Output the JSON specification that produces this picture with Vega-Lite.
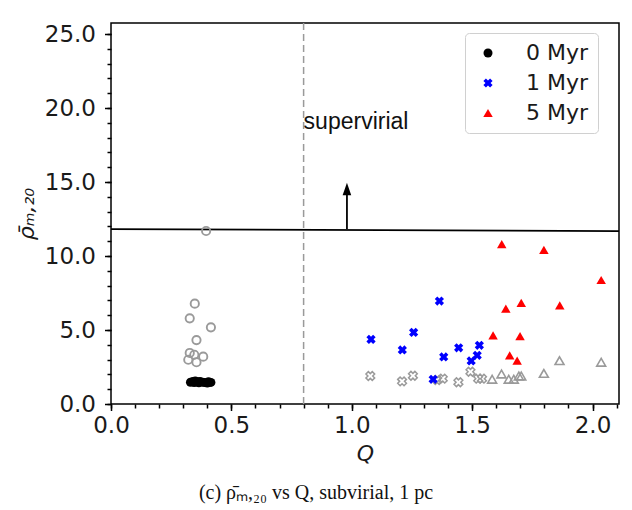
{
  "$schema": "https://vega.github.io/schema/vega-lite/v6.json",
  "autosize": "none",
  "width": 508,
  "height": 381,
  "padding": {"left": 111, "top": 23, "right": 13, "bottom": 106},
  "background": "white",
  "title": {
    "text": "(c) ρ̄ₘ,₂₀ vs Q, subvirial, 1 pc",
    "orient": "bottom",
    "anchor": "middle",
    "dx": -49,
    "offset": 18,
    "font": "Liberation Serif",
    "fontSize": 20,
    "fontWeight": "normal",
    "color": "#111111"
  },
  "resolve": {"axis": {"x": "independent", "y": "independent"}},
  "datasets": {
    "main": [
      {"Q": 0.33, "rho": 1.47, "series": "0 Myr"},
      {"Q": 0.34, "rho": 1.52, "series": "0 Myr"},
      {"Q": 0.345, "rho": 1.45, "series": "0 Myr"},
      {"Q": 0.35, "rho": 1.55, "series": "0 Myr"},
      {"Q": 0.355, "rho": 1.48, "series": "0 Myr"},
      {"Q": 0.36, "rho": 1.5, "series": "0 Myr"},
      {"Q": 0.365, "rho": 1.43, "series": "0 Myr"},
      {"Q": 0.37, "rho": 1.52, "series": "0 Myr"},
      {"Q": 0.38, "rho": 1.47, "series": "0 Myr"},
      {"Q": 0.39, "rho": 1.45, "series": "0 Myr"},
      {"Q": 0.4, "rho": 1.42, "series": "0 Myr"},
      {"Q": 0.405, "rho": 1.5, "series": "0 Myr"},
      {"Q": 0.415, "rho": 1.46, "series": "0 Myr"},
      {"Q": 1.364, "rho": 6.96, "series": "1 Myr"},
      {"Q": 1.08, "rho": 4.37, "series": "1 Myr"},
      {"Q": 1.257, "rho": 4.84, "series": "1 Myr"},
      {"Q": 1.21, "rho": 3.65, "series": "1 Myr"},
      {"Q": 1.382, "rho": 3.18, "series": "1 Myr"},
      {"Q": 1.444, "rho": 3.8, "series": "1 Myr"},
      {"Q": 1.53, "rho": 3.97, "series": "1 Myr"},
      {"Q": 1.521, "rho": 3.29, "series": "1 Myr"},
      {"Q": 1.496, "rho": 2.91, "series": "1 Myr"},
      {"Q": 1.338, "rho": 1.67, "series": "1 Myr"},
      {"Q": 1.623, "rho": 10.81, "series": "5 Myr"},
      {"Q": 1.798, "rho": 10.41, "series": "5 Myr"},
      {"Q": 2.036, "rho": 8.38, "series": "5 Myr"},
      {"Q": 1.704, "rho": 6.84, "series": "5 Myr"},
      {"Q": 1.64, "rho": 6.44, "series": "5 Myr"},
      {"Q": 1.864, "rho": 6.67, "series": "5 Myr"},
      {"Q": 1.587, "rho": 4.64, "series": "5 Myr"},
      {"Q": 1.699, "rho": 4.59, "series": "5 Myr"},
      {"Q": 1.656, "rho": 3.29, "series": "5 Myr"},
      {"Q": 1.687, "rho": 2.93, "series": "5 Myr"}
    ],
    "grayc": [
      {"Q": 0.395, "rho": 11.69},
      {"Q": 0.348, "rho": 6.78},
      {"Q": 0.327, "rho": 5.79},
      {"Q": 0.415, "rho": 5.18},
      {"Q": 0.355, "rho": 4.32},
      {"Q": 0.327, "rho": 3.45},
      {"Q": 0.346, "rho": 3.33},
      {"Q": 0.383, "rho": 3.2},
      {"Q": 0.321, "rho": 2.99},
      {"Q": 0.355, "rho": 2.82}
    ],
    "grayx": [
      {"Q": 1.077, "rho": 1.89},
      {"Q": 1.209, "rho": 1.53},
      {"Q": 1.254, "rho": 1.91},
      {"Q": 1.355, "rho": 1.62},
      {"Q": 1.378, "rho": 1.71},
      {"Q": 1.443, "rho": 1.47},
      {"Q": 1.493, "rho": 2.18},
      {"Q": 1.525, "rho": 1.71},
      {"Q": 1.541, "rho": 1.71}
    ],
    "grayt": [
      {"Q": 1.583, "rho": 1.67},
      {"Q": 1.622, "rho": 2.03},
      {"Q": 1.652, "rho": 1.67},
      {"Q": 1.673, "rho": 1.67},
      {"Q": 1.694, "rho": 1.89},
      {"Q": 1.704, "rho": 1.89},
      {"Q": 1.798, "rho": 2.07},
      {"Q": 1.863, "rho": 2.93},
      {"Q": 2.036, "rho": 2.82}
    ]
  },
  "layer": [
    {
      "data": {"values": [{"Q": 0.8}]},
      "mark": {"type": "rule", "color": "#9a9a9a", "strokeWidth": 1.5, "strokeDash": [7, 4]},
      "encoding": {
        "x": {"field": "Q", "type": "quantitative", "axis": null}
      }
    },
    {
      "data": {"values": [{"Q": 0, "rho": 11.82, "Q2": 2.11, "rho2": 11.69}]},
      "mark": {"type": "rule", "color": "black", "strokeWidth": 1.8},
      "encoding": {
        "x": {"field": "Q", "type": "quantitative", "axis": null},
        "y": {"field": "rho", "type": "quantitative", "axis": null},
        "x2": {"field": "Q2"},
        "y2": {"field": "rho2"}
      }
    },
    {
      "data": {"values": [{"Q": 0.98, "rho": 11.82, "rho2": 14.3}]},
      "mark": {"type": "rule", "color": "black", "strokeWidth": 1.8},
      "encoding": {
        "x": {"field": "Q", "type": "quantitative", "axis": null},
        "y": {"field": "rho", "type": "quantitative", "axis": null},
        "y2": {"field": "rho2"}
      }
    },
    {
      "data": {"values": [{"Q": 0.98, "rho": 14.53}]},
      "mark": {"type": "point", "shape": "M0,-1L-0.7,1L0.7,1Z", "filled": true, "color": "black", "opacity": 1, "size": 151},
      "encoding": {
        "x": {"field": "Q", "type": "quantitative", "axis": null},
        "y": {"field": "rho", "type": "quantitative", "axis": null}
      }
    },
    {
      "data": {"values": [{"Q": 0.8, "rho": 18.6, "label": "supervirial"}]},
      "mark": {"type": "text", "font": "Liberation Sans", "fontSize": 23, "align": "left", "baseline": "alphabetic", "color": "#111111", "dx": 0},
      "encoding": {
        "x": {"field": "Q", "type": "quantitative", "axis": null},
        "y": {"field": "rho", "type": "quantitative", "axis": null},
        "text": {"field": "label"}
      }
    },
    {
      "data": {"name": "grayc"},
      "mark": {"type": "point", "shape": "circle", "filled": false, "stroke": "#9a9a9a", "strokeWidth": 1.9, "opacity": 1, "size": 68},
      "encoding": {
        "x": {
          "field": "Q", "type": "quantitative",
          "axis": {
            "orient": "bottom",
            "values": [0, 0.1, 0.2, 0.3, 0.4, 0.5, 0.6, 0.7, 0.8, 0.9, 1.0, 1.1, 1.2, 1.3, 1.4, 1.5, 1.6, 1.7, 1.8, 1.9, 2.0, 2.1],
            "labels": false, "title": null, "tickSize": 4, "domain": false, "grid": false
          }
        },
        "y": {
          "field": "rho", "type": "quantitative",
          "axis": {
            "orient": "left",
            "values": [0, 1, 2, 3, 4, 5, 6, 7, 8, 9, 10, 11, 12, 13, 14, 15, 16, 17, 18, 19, 20, 21, 22, 23, 24, 25],
            "labels": false, "title": null, "tickSize": 4, "domain": false, "grid": false
          }
        }
      }
    },
    {
      "data": {"name": "grayx"},
      "mark": {"type": "point", "shape": "M-1,-0.45L-0.45,-1L0,-0.55L0.45,-1L1,-0.45L0.55,0L1,0.45L0.45,1L0,0.55L-0.45,1L-1,0.45L-0.55,0Z", "filled": false, "stroke": "#9a9a9a", "strokeWidth": 1.5, "opacity": 1, "size": 76},
      "encoding": {
        "x": {"field": "Q", "type": "quantitative", "axis": null},
        "y": {"field": "rho", "type": "quantitative", "axis": null}
      }
    },
    {
      "data": {"name": "grayt"},
      "mark": {"type": "point", "shape": "triangle-up", "filled": false, "stroke": "#9a9a9a", "strokeWidth": 1.6, "opacity": 1, "size": 80},
      "encoding": {
        "x": {"field": "Q", "type": "quantitative", "axis": null},
        "y": {"field": "rho", "type": "quantitative", "axis": null}
      }
    },
    {
      "data": {"name": "main"},
      "mark": {"type": "point", "filled": true, "opacity": 1},
      "encoding": {
        "x": {
          "field": "Q", "type": "quantitative",
          "scale": {"domain": [0, 2.11], "nice": false, "zero": false},
          "axis": {
            "orient": "bottom",
            "title": "Q",
            "values": [0, 0.5, 1.0, 1.5, 2.0],
            "format": ".1f",
            "labelOverlap": false,
            "labelFlush": false,
            "tickSize": 6.5,
            "labelPadding": 4,
            "titlePadding": 6
          }
        },
        "y": {
          "field": "rho", "type": "quantitative",
          "scale": {"domain": [0, 25.75], "nice": false, "zero": false},
          "axis": {
            "orient": "left",
            "title": "ρ̄ₘ,₂₀",
            "values": [0, 5, 10, 15, 20, 25],
            "format": ".1f",
            "labelOverlap": false,
            "labelFlush": false,
            "tickSize": 6.5,
            "labelPadding": 9,
            "titlePadding": 6
          }
        },
        "color": {
          "field": "series", "type": "nominal",
          "scale": {"domain": ["0 Myr", "1 Myr", "5 Myr"], "range": ["#000000", "#0000ff", "#ff0000"]},
          "legend": {"title": null}
        },
        "shape": {
          "field": "series", "type": "nominal",
          "scale": {"domain": ["0 Myr", "1 Myr", "5 Myr"], "range": ["circle", "M-1,-0.45L-0.45,-1L0,-0.55L0.45,-1L1,-0.45L0.55,0L1,0.45L0.45,1L0,0.55L-0.45,1L-1,0.45L-0.55,0Z", "triangle-up"]},
          "legend": {"title": null}
        },
        "size": {
          "field": "series", "type": "nominal",
          "scale": {"domain": ["0 Myr", "1 Myr", "5 Myr"], "range": [81, 90, 95]},
          "legend": {"title": null}
        }
      }
    }
  ],
  "config": {
    "view": {"stroke": "black", "strokeWidth": 1.5},
    "axis": {
      "domain": false,
      "grid": false,
      "labelFont": "DejaVu Sans",
      "labelFontSize": 23,
      "labelColor": "#1a1a1a",
      "tickColor": "black",
      "tickWidth": 1.5,
      "titleFont": "DejaVu Sans",
      "titleFontStyle": "italic",
      "titleFontWeight": "normal",
      "titleFontSize": 22,
      "titleColor": "#1a1a1a"
    },
    "legend": {
      "orient": "none",
      "legendX": 354,
      "legendY": 10,
      "padding": 9,
      "fillColor": "white",
      "strokeColor": "#d0d0d0",
      "cornerRadius": 4,
      "labelFont": "DejaVu Sans",
      "labelFontSize": 22,
      "labelColor": "#1a1a1a",
      "symbolOffset": 3,
      "labelOffset": 27,
      "rowPadding": 8,
      "symbolStrokeWidth": 0
    }
  }
}
